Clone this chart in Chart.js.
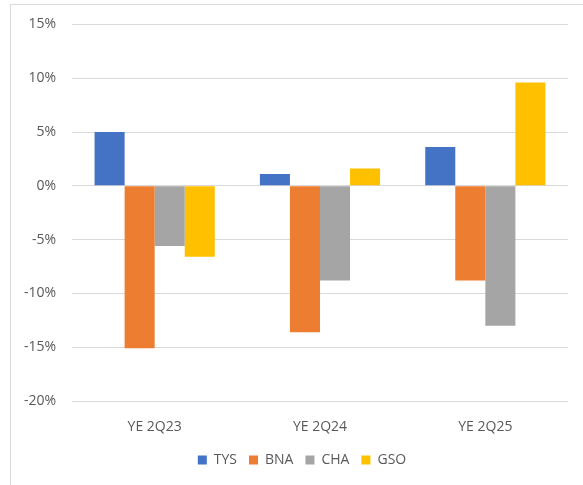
<!DOCTYPE html>
<html>
<head>
<meta charset="utf-8">
<script src="https://cdn.jsdelivr.net/npm/chart.js@4"></script>
<style>
  html, body { margin: 0; padding: 0; background: #fff; }
  #wrap { position: relative; width: 583px; height: 485px; overflow: hidden; }
  #frame { position: absolute; left: 10px; top: 4px; width: 600px; height: 520px; border: 1px solid #d9d9d9; box-sizing: border-box; }
  canvas { position: absolute; left: 0; top: 0; }
</style>
</head>
<body>
<div id="wrap">
  <div id="frame"></div>
  <canvas id="chart" width="604" height="485"></canvas>
</div>
<script>
// === DATA ===
const periods = ["YE 2Q23", "YE 2Q24", "YE 2Q25"];
const seriesNames = ["TYS", "BNA", "CHA", "GSO"];
const tys = [0.050, 0.011, 0.036];
const bna = [-0.151, -0.136, -0.088];
const cha = [-0.056, -0.088, -0.130];
const gso = [-0.066, 0.016, 0.096];
const yTicks = [-0.20, -0.15, -0.10, -0.05, 0, 0.05, 0.10, 0.15];

const colors = ["#4472C4", "#ED7D31", "#A5A5A5", "#FFC000"];
const values = [tys, bna, cha, gso];

// === CHART ===
Chart.defaults.font.family = "'Open Sans', 'Liberation Sans', sans-serif";
Chart.defaults.font.size = 14;
Chart.defaults.color = "#595959";

new Chart(document.getElementById("chart").getContext("2d"), {
  type: "bar",
  data: {
    labels: periods,
    datasets: seriesNames.map((name, i) => ({
      label: name,
      data: values[i],
      backgroundColor: colors[i],
      borderWidth: 0,
      categoryPercentage: 0.727,
      barPercentage: 1.0
    }))
  },
  options: {
    responsive: false,
    animation: false,
    layout: { padding: { top: 21, right: 0, bottom: 8, left: 0 } },
    plugins: {
      tooltip: { enabled: false },
      legend: {
        position: "bottom",
        labels: { boxWidth: 9, boxHeight: 9, padding: 12, color: "#595959" }
      }
    },
    scales: {
      x: {
        grid: { display: false },
        border: { display: false },
        ticks: { padding: 10, color: "#595959" },
        afterFit: s => { s.height = 40; }
      },
      y: {
        min: -0.20,
        max: 0.15,
        afterBuildTicks: s => { s.ticks = yTicks.map(v => ({ value: v })); },
        ticks: {
          padding: 16,
          color: "#595959",
          callback: v => Math.round(v * 100) + "%"
        },
        grid: { color: "#d9d9d9", lineWidth: 1, drawTicks: false },
        border: { display: false },
        afterFit: s => { s.width = 72; }
      },
      // empty right-hand gutter so the plot ends where the reference's does
      gutter: {
        position: "right",
        ticks: { display: false },
        grid: { display: false },
        border: { display: false },
        afterFit: s => { s.width = 36; }
      }
    }
  }
});
</script>
</body>
</html>
